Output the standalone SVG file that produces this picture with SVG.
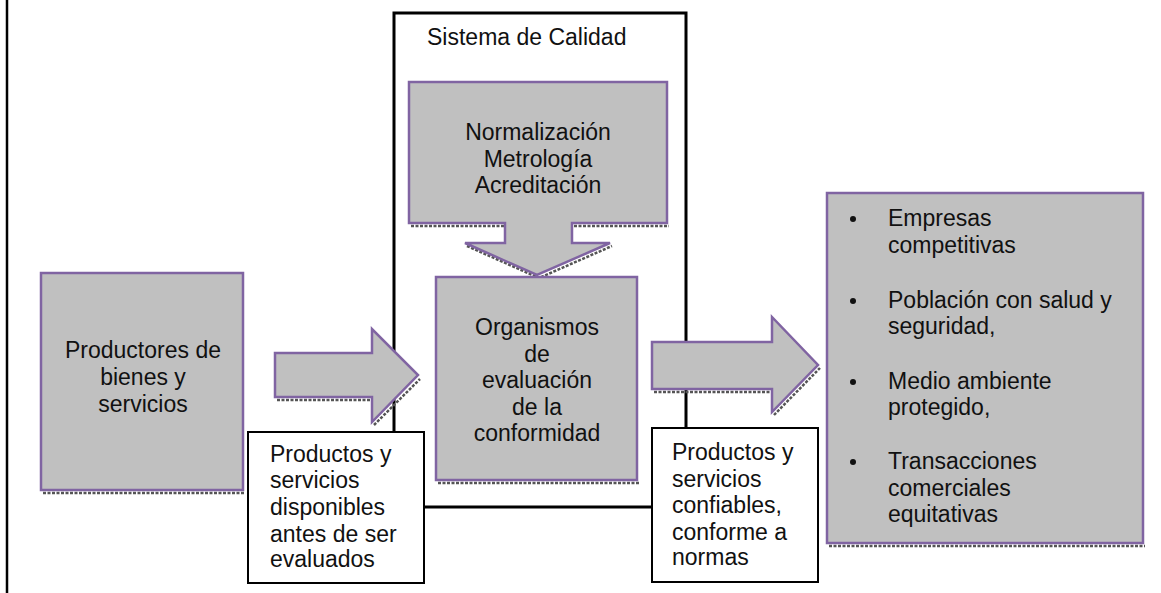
<svg xmlns="http://www.w3.org/2000/svg" width="1161" height="593" viewBox="0 0 1161 593">
<style>
  text { font-family: "Liberation Sans", Arial, sans-serif; font-size: 23px; fill: #111; }
  .c { text-anchor: middle; }
  .g { fill: #c0c0c0; stroke: #8064a2; stroke-width: 2.5; }
  .w { fill: #ffffff; stroke: #000; stroke-width: 2; }
  .sh { fill: none; stroke: #555; stroke-width: 2.5; stroke-dasharray: 3 1.5; }
  .frame { fill: none; stroke: #000; stroke-width: 3; }
</style>
<rect width="1161" height="593" fill="#fff"/>
<line x1="7" y1="0" x2="7" y2="593" stroke="#000" stroke-width="2.5"/>

<g id="sistema">
  <path class="frame" d="M394,432 V13 H686 V428 M424,507 H652"/>
  <text x="427" y="45">Sistema de Calidad</text>
</g>

<g id="connectors">
  <path class="sh" d="M277,400 H374 M374,425 L420,379"/>
  <path class="g" d="M275,353 H372 V329 L418,375 L372,422 V397 H275 Z"/>
  <path class="sh" d="M654,392 H774 M774,415 L820,368"/>
  <path class="g" d="M652,342 H772 V317 L818,365 L772,412 V389 H652 Z"/>
</g>

<g id="normalizacion">
  <path class="sh" d="M411,226 H507 M574,226 H669 M467,246 L539,278 L612,246"/>
  <path class="g" d="M409,82 H667 V223 H572 V243 H610 L537,275 L465,243 H505 V223 H409 Z"/>
  <text class="c" x="538" y="140">Normalización</text>
  <text class="c" x="538" y="167">Metrología</text>
  <text class="c" x="538" y="193">Acreditación</text>
</g>

<g id="organismos">
  <line class="sh" x1="438" y1="483" x2="639" y2="483"/>
  <rect class="g" x="436" y="277" width="201" height="203"/>
  <text class="c" x="537" y="335">Organismos</text>
  <text class="c" x="537" y="362">de</text>
  <text class="c" x="537" y="388">evaluación</text>
  <text class="c" x="537" y="415">de la</text>
  <text class="c" x="537" y="441">conformidad</text>
</g>

<g id="productores">
  <line class="sh" x1="43" y1="493" x2="245" y2="493"/>
  <rect class="g" x="41" y="273" width="202" height="217"/>
  <text class="c" x="143" y="358">Productores de</text>
  <text class="c" x="143" y="385">bienes y</text>
  <text class="c" x="143" y="412">servicios</text>
</g>

<g id="label-antes">
  <rect class="w" x="248" y="432" width="176" height="151"/>
  <text x="270" y="462">Productos y</text>
  <text x="270" y="488">servicios</text>
  <text x="270" y="515">disponibles</text>
  <text x="270" y="542">antes de ser</text>
  <text x="270" y="567">evaluados</text>
</g>

<g id="label-confiables">
  <rect class="w" x="652" y="428" width="166" height="154"/>
  <text x="672" y="460">Productos y</text>
  <text x="672" y="487">servicios</text>
  <text x="672" y="513">confiables,</text>
  <text x="672" y="540">conforme a</text>
  <text x="672" y="565">normas</text>
</g>

<g id="beneficios">
  <line class="sh" x1="829" y1="546" x2="1145" y2="546"/>
  <rect class="g" x="827" y="193" width="316" height="350"/>
  <circle cx="853" cy="219" r="3" fill="#111"/>
  <text x="888" y="226">Empresas</text>
  <text x="888" y="253">competitivas</text>
  <circle cx="853" cy="301" r="3" fill="#111"/>
  <text x="888" y="308">Población con salud y</text>
  <text x="888" y="334">seguridad,</text>
  <circle cx="853" cy="382" r="3" fill="#111"/>
  <text x="888" y="389">Medio ambiente</text>
  <text x="888" y="415">protegido,</text>
  <circle cx="853" cy="462" r="3" fill="#111"/>
  <text x="888" y="469">Transacciones</text>
  <text x="888" y="496">comerciales</text>
  <text x="888" y="522">equitativas</text>
</g>
</svg>
